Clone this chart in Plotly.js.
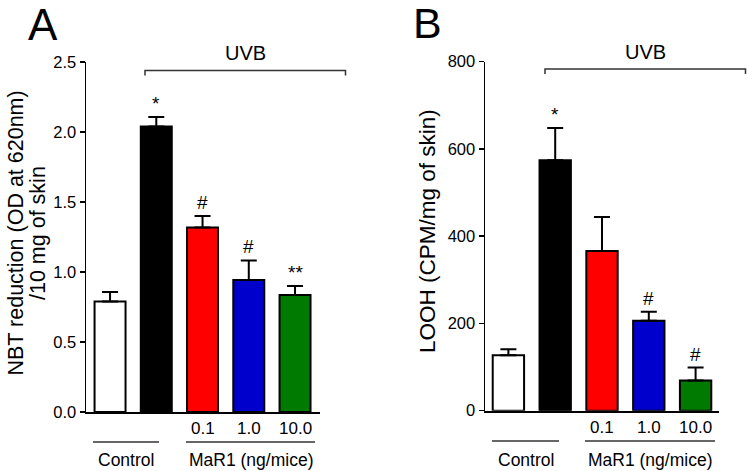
<!DOCTYPE html>
<html><head><meta charset="utf-8">
<script src="https://cdn.plot.ly/plotly-3.0.1.min.js"></script>
<style>html,body{margin:0;padding:0;background:#fff}#chart{width:747px;height:471px}</style>
</head><body><div id="chart"></div>
<script>
// ---- data ----
const groups = ["Control", "UVB", "UVB+MaR1 0.1", "UVB+MaR1 1.0", "UVB+MaR1 10.0"];
const doseLabels = ["", "", "0.1", "1.0", "10.0"];
const nbtMean = [0.79, 2.04, 1.317, 0.943, 0.836];
const nbtErr  = [0.067, 0.067, 0.083, 0.14, 0.064];
const nbtSig  = ["", "*", "#", "#", "**"];
const loohMean = [127, 574, 366, 206, 69];
const loohErr  = [14, 74, 78, 21, 30];
const loohSig  = ["", "*", "", "#", "#"];
const barColors = ["#ffffff", "#000000", "#ff0000", "#0000cc", "#007a00"];
const nbtTicks = [0, 0.5, 1.0, 1.5, 2.0, 2.5];
const loohTicks = [0, 200, 400, 600, 800];

// ---- layout helpers (pixel -> paper) ----
const W = 747, H = 471;
const px = x => x / W;
const py = y => 1 - y / H;
const FONT = "Arial, 'Liberation Sans', sans-serif";

function barTrace(vals, errs, xa, ya) {
  return {
    type: "bar", x: groups, y: vals, xaxis: xa, yaxis: ya,
    width: 0.67,
    marker: {color: barColors, line: {color: "#000", width: 2}},
    error_y: {type: "data", symmetric: false, array: errs, arrayminus: errs.map(() => 0),
              color: "#000", thickness: 2, width: 8},
    showlegend: false, hoverinfo: "skip"
  };
}

const traces = [
  barTrace(nbtMean, nbtErr, "x", "y"),
  barTrace(loohMean, loohErr, "x2", "y2")
];

const annotations = [];
const shapes = [];
function txt(x, y, text, size, extra) {
  annotations.push(Object.assign({xref: "paper", yref: "paper", x: px(x), y: py(y), text: text,
    showarrow: false, xanchor: "center", yanchor: "middle",
    font: {family: FONT, size: size, color: "#000"}}, extra || {}));
}
function addSig(sig, mean, err, xr, yr, shift) {
  sig.forEach((s, i) => {
    if (!s) return;
    annotations.push({xref: xr, yref: yr, x: groups[i], y: mean[i] + err[i], text: s,
      showarrow: false, xanchor: "center", yanchor: "bottom", yshift: shift, font: {family: FONT, size: 19, color: "#000"}});
  });
}
addSig(nbtSig, nbtMean, nbtErr, "x", "y", 1);
addSig(loohSig, loohMean, loohErr, "x2", "y2", 1);

function addBottom(xr, doseY, lineY, labelY, ctrl, mar) {
  doseLabels.forEach((d, i) => {
    if (!d) return;
    annotations.push({xref: xr, yref: "paper", x: groups[i], y: py(doseY), text: d, showarrow: false,
      xanchor: "center", yanchor: "middle", font: {family: FONT, size: 17, color: "#000"}});
  });
  shapes.push({type: "line", xref: "paper", yref: "paper", x0: px(ctrl[0]), x1: px(ctrl[1]), y0: py(lineY), y1: py(lineY), line: {color: "#333", width: 1.5}});
  shapes.push({type: "line", xref: "paper", yref: "paper", x0: px(mar[0]), x1: px(mar[1]), y0: py(lineY), y1: py(lineY), line: {color: "#333", width: 1.5}});
  txt((ctrl[0] + ctrl[1]) / 2, labelY, "Control", 17.5);
  txt((mar[0] + mar[1]) / 2, labelY, "MaR1 (ng/mice)", 17.5);
}
addBottom("x", 428, 442, 460, [93, 159], [186, 315]);
addBottom("x2", 427, 441, 460, [492, 559], [585, 715]);

function addBracket(x0, x1, y, textY) {
  shapes.push({type: "path", xref: "paper", yref: "paper",
    path: `M ${px(x0)} ${py(y + 5)} L ${px(x0)} ${py(y)} L ${px(x1)} ${py(y)} L ${px(x1)} ${py(y + 5)}`,
    line: {color: "#333", width: 1.5}});
  txt((x0 + x1) / 2, textY, "UVB", 20);
}
addBracket(145, 345.5, 70.5, 53);
addBracket(545, 745.5, 69, 52);

// panel letters
txt(42.5, 25, "A", 44);
txt(427.5, 23, "B", 43);

// y titles (first title split into its two lines)
txt(15.5, 233, "NBT reduction (OD at 620nm)", 21.5, {textangle: -90, borderpad: 0});
txt(38, 233, "/10 mg of skin", 21.5, {textangle: -90, borderpad: 0});
txt(427, 231, "LOOH (CPM/mg of skin)", 22.5, {textangle: -90});

const xaxisBase = {type: "category", showticklabels: false, ticks: "", showline: true, linecolor: "#000", linewidth: 2, showgrid: false, zeroline: false, fixedrange: true};
const yaxisBase = {showline: true, linecolor: "#000", linewidth: 1.5, ticks: "outside", ticklen: 5, tickwidth: 1.5, tickcolor: "#000",
  showgrid: false, zeroline: false, tickfont: {family: FONT, size: 16.5, color: "#000"}, fixedrange: true};

const layout = {
  width: W, height: H, margin: {l: 0, r: 0, t: 0, b: 0}, paper_bgcolor: "#fff", plot_bgcolor: "#fff",
  xaxis: Object.assign({}, xaxisBase, {domain: [px(86), px(320)], range: [-0.52, 4.54], anchor: "y"}),
  yaxis: Object.assign({}, yaxisBase, {domain: [py(412), py(62)], range: [0, 2.5], tickvals: nbtTicks, tickformat: ".1f", anchor: "x"}),
  xaxis2: Object.assign({}, xaxisBase, {domain: [px(485), px(719)], range: [-0.5, 4.5], anchor: "y2"}),
  yaxis2: Object.assign({}, yaxisBase, {domain: [py(410.7), py(61.7)], range: [0, 800], tickvals: loohTicks, anchor: "x2"}),
  annotations: annotations, shapes: shapes, bargap: 0.3
};

Plotly.newPlot("chart", traces, layout, {displayModeBar: false, staticPlot: true});
</script></body></html>
